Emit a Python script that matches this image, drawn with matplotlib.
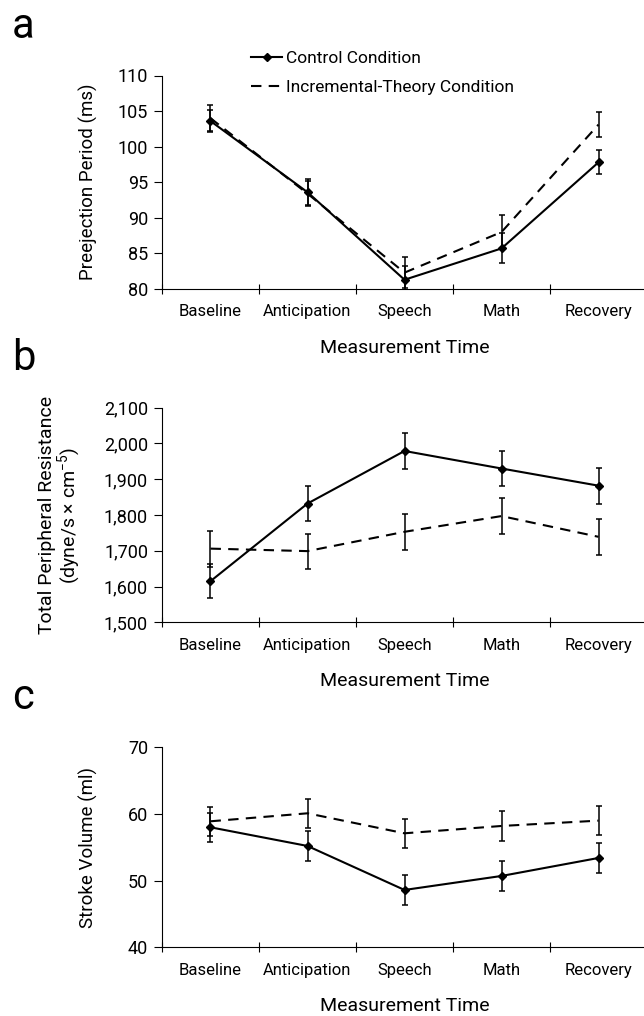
import numpy as np
import matplotlib
matplotlib.use('Agg')
import matplotlib.pyplot as plt

# Fuente parecida a la del original (sin versión condensada disponible)
plt.rcParams['font.family'] = ['Roboto', 'DejaVu Sans']
plt.rcParams['mathtext.fontset'] = 'custom'
plt.rcParams['mathtext.rm'] = 'Roboto'
plt.rcParams['mathtext.default'] = 'regular'

categories = ['Baseline', 'Anticipation', 'Speech', 'Math', 'Recovery']

# a: Preejection Period
pep_control = [103.6, 93.6, 81.3, 85.7, 97.8]
pep_control_err = [1.5, 1.8, 2.0, 2.1, 1.7]
pep_incr = [104.0, 93.4, 82.3, 88.0, 103.1]
pep_incr_err = [1.8, 1.8, 2.2, 2.4, 1.8]

# b: Total Peripheral Resistance
tpr_control = [1615, 1832, 1979, 1930, 1882]
tpr_control_err = [48, 49, 50, 50, 50]
tpr_incr = [1706, 1699, 1753, 1797, 1739]
tpr_incr_err = [50, 49, 50, 50, 50]

# c: Stroke Volume
sv_control = [58.0, 55.2, 48.6, 50.7, 53.4]
sv_control_err = [2.2, 2.2, 2.2, 2.2, 2.2]
sv_incr = [58.9, 60.1, 57.1, 58.2, 59.0]
sv_incr_err = [2.2, 2.2, 2.2, 2.2, 2.2]

fig = plt.figure(figsize=(6.44, 10.16), dpi=100)

W, H = 644, 1016
left = 162 / W
width = (647 - 162) / W

panels = [
    # (letra, top px, bottom px, datos..., ylim, yticks, ylabel, x etiqueta, tamaño)
    ('a', 75.5, 289, pep_control, pep_control_err, pep_incr, pep_incr_err,
     (80, 110), np.arange(80, 111, 5), 'Preejection Period (ms)', -0.132, 13.5),
    ('b', 407.7, 622.3, tpr_control, tpr_control_err, tpr_incr, tpr_incr_err,
     (1500, 2100), np.arange(1500, 2101, 100),
     'Total Peripheral Resistance\n(dyne/s \u00d7 cm$^{\u22125}$)', -0.162, 14),
    ('c', 747.3, 947.3, sv_control, sv_control_err, sv_incr, sv_incr_err,
     (40, 70), np.arange(40, 71, 10), 'Stroke Volume (ml)', -0.132, 13.5),
]

x = np.arange(len(categories)) + 0.5

for (letter, top, bot, c, ce, inc, ince, ylim, yticks, ylabel, lx, lsize) in panels:
    ax = fig.add_axes([left, 1 - bot / H, width, (bot - top) / H])
    ax.errorbar(x, inc, yerr=ince, fmt='none', ecolor='black',
                elinewidth=1.1, capsize=2.5, capthick=1.1)
    ax.errorbar(x, c, yerr=ce, fmt='none', ecolor='black',
                elinewidth=1.1, capsize=2.5, capthick=1.1)
    l2, = ax.plot(x, inc, color='black', lw=1.5, ls=(0, (5, 3.5)),
                  label='Incremental-Theory Condition')
    l1, = ax.plot(x, c, color='black', lw=1.5, marker='D', markersize=4.5,
                  label='Control Condition')

    ax.set_xlim(0, 5)
    ax.set_ylim(*ylim)
    ax.set_xticks(np.arange(0, 6))
    ax.set_xticklabels([])
    ax.set_xticks(x, minor=True)
    ax.set_xticklabels(categories, minor=True, fontsize=12)
    ax.tick_params(axis='x', which='major', direction='inout', length=7, width=0.8)
    ax.tick_params(axis='x', which='minor', length=0, pad=11)
    ax.set_yticks(yticks)
    if letter == 'b':
        ax.set_yticklabels([f'{v:,}' for v in yticks])
    ax.tick_params(axis='y', direction='out', length=6, width=0.8, labelsize=13, pad=4)

    for s in ['top', 'right']:
        ax.spines[s].set_visible(False)
    for s in ['left', 'bottom']:
        ax.spines[s].set_linewidth(0.8)

    ax.set_xlabel('Measurement Time', fontsize=14, labelpad=14)
    ax.set_ylabel(ylabel, fontsize=lsize, linespacing=1.0)
    ax.yaxis.set_label_coords(lx, 0.5)

    fig.text(12 / W, 1 - (top - 38) / H, letter, fontsize=30, va='baseline', ha='left')

    if letter == 'a':
        fig.legend(handles=[l1, l2], loc='upper left',
                   bbox_to_anchor=(251 / W, 1 - 51 / H), frameon=False,
                   fontsize=12.5, handlelength=1.8, handletextpad=0.2,
                   labelspacing=0.8, borderpad=0, borderaxespad=0)

plt.savefig('out.png', dpi=100)
